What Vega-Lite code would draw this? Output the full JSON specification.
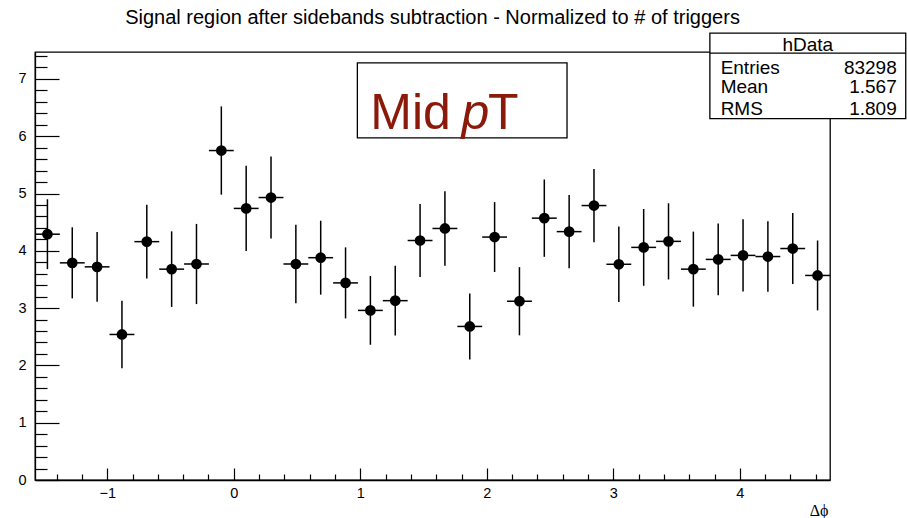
{
  "$schema": "https://vega.github.io/schema/vega-lite/v6.json",
  "width": 795,
  "height": 428,
  "autosize": "none",
  "padding": {"left": 35, "top": 52, "right": 77, "bottom": 38},
  "background": "white",
  "config": {
    "view": {"stroke": "black", "strokeWidth": 1.3},
    "axis": {"grid": false, "domainColor": "black", "tickColor": "black", "domainWidth": 1.3, "tickWidth": 1.2, "labelFont": "Liberation Sans", "labelFontSize": 14.5, "labelColor": "black"}
  },
  "title": {"text": "Signal region after sidebands subtraction - Normalized to # of triggers", "font": "Liberation Sans", "fontSize": 20, "fontWeight": "normal", "color": "black", "offset": 4},
  "datasets": {
    "hist": [
      {"x": -1.4726, "xlo": -1.5708, "xhi": -1.3744, "y": 4.29, "ylo": 3.68, "yhi": 4.90},
      {"x": -1.2763, "xlo": -1.3744, "xhi": -1.1781, "y": 3.79, "ylo": 3.17, "yhi": 4.41},
      {"x": -1.0799, "xlo": -1.1781, "xhi": -0.9817, "y": 3.72, "ylo": 3.11, "yhi": 4.33},
      {"x": -0.8836, "xlo": -0.9817, "xhi": -0.7854, "y": 2.54, "ylo": 1.95, "yhi": 3.13},
      {"x": -0.6872, "xlo": -0.7854, "xhi": -0.5890, "y": 4.16, "ylo": 3.515, "yhi": 4.805},
      {"x": -0.4909, "xlo": -0.5890, "xhi": -0.3927, "y": 3.68, "ylo": 3.02, "yhi": 4.34},
      {"x": -0.2945, "xlo": -0.3927, "xhi": -0.1963, "y": 3.77, "ylo": 3.07, "yhi": 4.47},
      {"x": -0.0982, "xlo": -0.1963, "xhi": 0.0, "y": 5.75, "ylo": 4.98, "yhi": 6.52},
      {"x": 0.0982, "xlo": 0.0, "xhi": 0.1963, "y": 4.74, "ylo": 3.995, "yhi": 5.485},
      {"x": 0.2945, "xlo": 0.1963, "xhi": 0.3927, "y": 4.93, "ylo": 4.215, "yhi": 5.645},
      {"x": 0.4909, "xlo": 0.3927, "xhi": 0.5890, "y": 3.77, "ylo": 3.085, "yhi": 4.455},
      {"x": 0.6872, "xlo": 0.5890, "xhi": 0.7854, "y": 3.88, "ylo": 3.235, "yhi": 4.525},
      {"x": 0.8836, "xlo": 0.7854, "xhi": 0.9817, "y": 3.44, "ylo": 2.82, "yhi": 4.06},
      {"x": 1.0799, "xlo": 0.9817, "xhi": 1.1781, "y": 2.96, "ylo": 2.36, "yhi": 3.56},
      {"x": 1.2763, "xlo": 1.1781, "xhi": 1.3744, "y": 3.13, "ylo": 2.52, "yhi": 3.74},
      {"x": 1.4726, "xlo": 1.3744, "xhi": 1.5708, "y": 4.18, "ylo": 3.545, "yhi": 4.815},
      {"x": 1.6690, "xlo": 1.5708, "xhi": 1.7671, "y": 4.39, "ylo": 3.74, "yhi": 5.04},
      {"x": 1.8653, "xlo": 1.7671, "xhi": 1.9635, "y": 2.68, "ylo": 2.105, "yhi": 3.255},
      {"x": 2.0617, "xlo": 1.9635, "xhi": 2.1598, "y": 4.24, "ylo": 3.63, "yhi": 4.85},
      {"x": 2.2580, "xlo": 2.1598, "xhi": 2.3562, "y": 3.12, "ylo": 2.525, "yhi": 3.715},
      {"x": 2.4544, "xlo": 2.3562, "xhi": 2.5525, "y": 4.57, "ylo": 3.895, "yhi": 5.245},
      {"x": 2.6507, "xlo": 2.5525, "xhi": 2.7489, "y": 4.335, "ylo": 3.695, "yhi": 4.975},
      {"x": 2.8471, "xlo": 2.7489, "xhi": 2.9452, "y": 4.79, "ylo": 4.15, "yhi": 5.43},
      {"x": 3.0434, "xlo": 2.9452, "xhi": 3.1416, "y": 3.765, "ylo": 3.105, "yhi": 4.425},
      {"x": 3.2398, "xlo": 3.1416, "xhi": 3.3379, "y": 4.06, "ylo": 3.39, "yhi": 4.73},
      {"x": 3.4361, "xlo": 3.3379, "xhi": 3.5343, "y": 4.165, "ylo": 3.50, "yhi": 4.83},
      {"x": 3.6325, "xlo": 3.5343, "xhi": 3.7306, "y": 3.68, "ylo": 3.025, "yhi": 4.335},
      {"x": 3.8288, "xlo": 3.7306, "xhi": 3.9270, "y": 3.85, "ylo": 3.225, "yhi": 4.475},
      {"x": 4.0252, "xlo": 3.9270, "xhi": 4.1233, "y": 3.92, "ylo": 3.29, "yhi": 4.55},
      {"x": 4.2215, "xlo": 4.1233, "xhi": 4.3197, "y": 3.90, "ylo": 3.285, "yhi": 4.515},
      {"x": 4.4179, "xlo": 4.3197, "xhi": 4.5160, "y": 4.04, "ylo": 3.42, "yhi": 4.66},
      {"x": 4.6142, "xlo": 4.5160, "xhi": 4.7124, "y": 3.57, "ylo": 2.96, "yhi": 4.18}
    ]
  },
  "resolve": {"axis": {"x": "independent", "y": "independent"}},
  "layer": [
    {
      "data": {"name": "hist"},
      "mark": {"type": "rule", "color": "black", "strokeWidth": 1.5},
      "encoding": {
        "x": {"field": "x", "type": "quantitative", "scale": {"domain": [-1.5708, 4.7124], "nice": false, "zero": false},
              "axis": {"orient": "bottom", "values": [-1, 0, 1, 2, 3, 4], "tickSize": -12, "labelPadding": 18, "title": "Δϕ", "titleFont": "Liberation Serif", "titleFontSize": 16, "titleFontWeight": "normal", "titleColor": "black", "titleAnchor": "end", "titleAlign": "right", "titleBaseline": "alphabetic", "titleX": 793, "titleY": 35}},
        "y": {"field": "ylo", "type": "quantitative", "scale": {"domain": [0, 7.47], "nice": false, "zero": true},
              "axis": {"orient": "left", "values": [0, 1, 2, 3, 4, 5, 6, 7], "tickSize": -24, "labelPadding": 33, "title": null}},
        "y2": {"field": "yhi"}
      }
    },
    {
      "data": {"name": "hist"},
      "mark": {"type": "rule", "color": "black", "strokeWidth": 1.5},
      "encoding": {
        "x": {"field": "xlo", "type": "quantitative",
              "axis": {"orient": "bottom", "values": [-1.4, -1.2, -0.8, -0.6, -0.4, -0.2, 0.2, 0.4, 0.6, 0.8, 1.2, 1.4, 1.6, 1.8, 2.2, 2.4, 2.6, 2.8, 3.2, 3.4, 3.6, 3.8, 4.2, 4.4, 4.6], "tickSize": -6, "labels": false, "domain": false, "title": null}},
        "x2": {"field": "xhi"},
        "y": {"field": "y", "type": "quantitative",
              "axis": {"orient": "left", "values": [0.2, 0.4, 0.6, 0.8, 1.2, 1.4, 1.6, 1.8, 2.2, 2.4, 2.6, 2.8, 3.2, 3.4, 3.6, 3.8, 4.2, 4.4, 4.6, 4.8, 5.2, 5.4, 5.6, 5.8, 6.2, 6.4, 6.6, 6.8, 7.2, 7.4], "tickSize": -12, "labels": false, "domain": false, "title": null}}
      }
    },
    {
      "data": {"name": "hist"},
      "mark": {"type": "circle", "color": "black", "opacity": 1, "size": 115},
      "encoding": {
        "x": {"field": "x", "type": "quantitative", "axis": null},
        "y": {"field": "y", "type": "quantitative", "axis": null}
      }
    },
    {
      "data": {"values": [
        {"x": 0.977, "x2": 2.634, "y": 7.279, "y2": 5.97},
        {"x": 3.763, "x2": 5.311, "y": 7.80, "y2": 6.306}
      ]},
      "mark": {"type": "rect", "fill": "white", "stroke": "black", "strokeWidth": 1.3, "clip": false},
      "encoding": {
        "x": {"field": "x", "type": "quantitative", "axis": null},
        "x2": {"field": "x2"},
        "y": {"field": "y", "type": "quantitative", "axis": null},
        "y2": {"field": "y2"}
      }
    },
    {
      "data": {"values": [{"x": 3.763, "x2": 5.311, "y": 7.45}]},
      "mark": {"type": "rule", "color": "black", "strokeWidth": 1.3, "clip": false},
      "encoding": {
        "x": {"field": "x", "type": "quantitative", "axis": null},
        "x2": {"field": "x2"},
        "y": {"field": "y", "type": "quantitative", "axis": null}
      }
    },
    {
      "data": {"values": [{"x": 1.079, "y": 6.13, "t": "Mid"}, {"x": 2.01, "y": 6.13, "t": "T"}]},
      "mark": {"type": "text", "font": "Liberation Sans", "fontSize": 50, "color": "#8a1a0a", "align": "left", "baseline": "alphabetic"},
      "encoding": {
        "x": {"field": "x", "type": "quantitative", "axis": null},
        "y": {"field": "y", "type": "quantitative", "axis": null},
        "text": {"field": "t"}
      }
    },
    {
      "data": {"values": [{"x": 1.80, "y": 6.13, "t": "p"}]},
      "mark": {"type": "text", "font": "Liberation Sans", "fontSize": 50, "fontStyle": "italic", "color": "#8a1a0a", "align": "left", "baseline": "alphabetic"},
      "encoding": {
        "x": {"field": "x", "type": "quantitative", "axis": null},
        "y": {"field": "y", "type": "quantitative", "axis": null},
        "text": {"field": "t"}
      }
    },
    {
      "data": {"values": [{"x": 4.537, "y": 7.49, "t": "hData"}]},
      "mark": {"type": "text", "font": "Liberation Sans", "fontSize": 19, "color": "black", "align": "center", "baseline": "alphabetic", "clip": false},
      "encoding": {
        "x": {"field": "x", "type": "quantitative", "axis": null},
        "y": {"field": "y", "type": "quantitative", "axis": null},
        "text": {"field": "t"}
      }
    },
    {
      "data": {"values": [{"x": 3.848, "y": 7.087, "t": "Entries"}, {"x": 3.848, "y": 6.755, "t": "Mean"}, {"x": 3.848, "y": 6.371, "t": "RMS"}]},
      "mark": {"type": "text", "font": "Liberation Sans", "fontSize": 19, "color": "black", "align": "left", "baseline": "alphabetic", "clip": false},
      "encoding": {
        "x": {"field": "x", "type": "quantitative", "axis": null},
        "y": {"field": "y", "type": "quantitative", "axis": null},
        "text": {"field": "t"}
      }
    },
    {
      "data": {"values": [{"x": 5.24, "y": 7.087, "t": "83298"}, {"x": 5.24, "y": 6.755, "t": "1.567"}, {"x": 5.24, "y": 6.371, "t": "1.809"}]},
      "mark": {"type": "text", "font": "Liberation Sans", "fontSize": 19, "color": "black", "align": "right", "baseline": "alphabetic", "clip": false},
      "encoding": {
        "x": {"field": "x", "type": "quantitative", "axis": null},
        "y": {"field": "y", "type": "quantitative", "axis": null},
        "text": {"field": "t"}
      }
    }
  ]
}
